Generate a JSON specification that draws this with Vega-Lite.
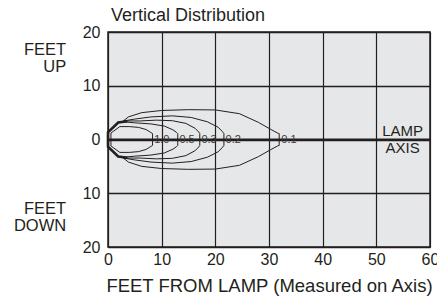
{
  "$schema": "https://vega.github.io/schema/vega-lite/v6.json",
  "autosize": "none",
  "width": 322,
  "height": 215,
  "padding": {"left": 108, "top": 32, "right": 7, "bottom": 54},
  "background": "white",
  "title": {"text": "Vertical Distribution", "anchor": "start", "frame": "group", "fontSize": 18, "fontWeight": "normal", "font": "Liberation Sans", "color": "#231f20", "baseline": "alphabetic", "offset": -14.5, "dx": 3},
  "config": {
    "view": {"fill": "#e6e7e8", "stroke": "#231f20", "strokeWidth": 1.5},
    "axis": {"labelFont": "Liberation Sans", "titleFont": "Liberation Sans", "labelColor": "#231f20", "titleColor": "#231f20", "gridColor": "#231f20", "gridOpacity": 1, "gridWidth": 1.2, "domain": false, "ticks": false},
    "text": {"font": "Liberation Sans", "color": "#231f20"}
  },
  "datasets": {
    "contours": [
      {"level": "0.1", "order": 1, "x": 2.85, "y": 3.45},
      {"level": "0.1", "order": 2, "x": 3.8, "y": 4.2},
      {"level": "0.1", "order": 3, "x": 6.3, "y": 5.0},
      {"level": "0.1", "order": 4, "x": 10, "y": 5.4},
      {"level": "0.1", "order": 5, "x": 15, "y": 5.55},
      {"level": "0.1", "order": 6, "x": 20, "y": 5.5},
      {"level": "0.1", "order": 7, "x": 24.5, "y": 4.8},
      {"level": "0.1", "order": 8, "x": 28, "y": 3.2},
      {"level": "0.1", "order": 9, "x": 30.3, "y": 1.9},
      {"level": "0.1", "order": 10, "x": 31.6, "y": 1.2},
      {"level": "0.1", "order": 11, "x": 31.9, "y": 1.1},
      {"level": "0.1", "order": 12, "x": 31.9, "y": -1.1},
      {"level": "0.1", "order": 13, "x": 31.6, "y": -1.2},
      {"level": "0.1", "order": 14, "x": 30.3, "y": -1.9},
      {"level": "0.1", "order": 15, "x": 28, "y": -3.2},
      {"level": "0.1", "order": 16, "x": 24.5, "y": -4.8},
      {"level": "0.1", "order": 17, "x": 20, "y": -5.5},
      {"level": "0.1", "order": 18, "x": 15, "y": -5.55},
      {"level": "0.1", "order": 19, "x": 10, "y": -5.4},
      {"level": "0.1", "order": 20, "x": 6.3, "y": -5.0},
      {"level": "0.1", "order": 21, "x": 3.8, "y": -4.2},
      {"level": "0.1", "order": 22, "x": 2.85, "y": -3.45},
      {"level": "0.2", "order": 1, "x": 2.85, "y": 3.45},
      {"level": "0.2", "order": 2, "x": 5, "y": 3.8},
      {"level": "0.2", "order": 3, "x": 8, "y": 4.2},
      {"level": "0.2", "order": 4, "x": 12, "y": 4.4},
      {"level": "0.2", "order": 5, "x": 15.5, "y": 4.1},
      {"level": "0.2", "order": 6, "x": 18.5, "y": 3.3},
      {"level": "0.2", "order": 7, "x": 20.5, "y": 2.3},
      {"level": "0.2", "order": 8, "x": 21.3, "y": 1.5},
      {"level": "0.2", "order": 9, "x": 21.6, "y": 1.1},
      {"level": "0.2", "order": 10, "x": 21.6, "y": -1.1},
      {"level": "0.2", "order": 11, "x": 21.3, "y": -1.5},
      {"level": "0.2", "order": 12, "x": 20.5, "y": -2.3},
      {"level": "0.2", "order": 13, "x": 18.5, "y": -3.3},
      {"level": "0.2", "order": 14, "x": 15.5, "y": -4.1},
      {"level": "0.2", "order": 15, "x": 12, "y": -4.4},
      {"level": "0.2", "order": 16, "x": 8, "y": -4.2},
      {"level": "0.2", "order": 17, "x": 5, "y": -3.8},
      {"level": "0.2", "order": 18, "x": 2.85, "y": -3.45},
      {"level": "0.3", "order": 1, "x": 2.85, "y": 3.45},
      {"level": "0.3", "order": 2, "x": 6, "y": 3.45},
      {"level": "0.3", "order": 3, "x": 9, "y": 3.6},
      {"level": "0.3", "order": 4, "x": 12, "y": 3.5},
      {"level": "0.3", "order": 5, "x": 14.5, "y": 3.0},
      {"level": "0.3", "order": 6, "x": 16.2, "y": 2.1},
      {"level": "0.3", "order": 7, "x": 16.9, "y": 1.4},
      {"level": "0.3", "order": 8, "x": 17.1, "y": 1.1},
      {"level": "0.3", "order": 9, "x": 17.1, "y": -1.1},
      {"level": "0.3", "order": 10, "x": 16.9, "y": -1.4},
      {"level": "0.3", "order": 11, "x": 16.2, "y": -2.1},
      {"level": "0.3", "order": 12, "x": 14.5, "y": -3.0},
      {"level": "0.3", "order": 13, "x": 12, "y": -3.5},
      {"level": "0.3", "order": 14, "x": 9, "y": -3.6},
      {"level": "0.3", "order": 15, "x": 6, "y": -3.45},
      {"level": "0.3", "order": 16, "x": 2.85, "y": -3.45},
      {"level": "0.5", "order": 1, "x": 2.85, "y": 3.3},
      {"level": "0.5", "order": 2, "x": 5, "y": 3.1},
      {"level": "0.5", "order": 3, "x": 8, "y": 2.9},
      {"level": "0.5", "order": 4, "x": 10.5, "y": 2.5},
      {"level": "0.5", "order": 5, "x": 12.1, "y": 1.8},
      {"level": "0.5", "order": 6, "x": 12.8, "y": 1.3},
      {"level": "0.5", "order": 7, "x": 13.0, "y": 1.1},
      {"level": "0.5", "order": 8, "x": 13.0, "y": -1.1},
      {"level": "0.5", "order": 9, "x": 12.8, "y": -1.3},
      {"level": "0.5", "order": 10, "x": 12.1, "y": -1.8},
      {"level": "0.5", "order": 11, "x": 10.5, "y": -2.5},
      {"level": "0.5", "order": 12, "x": 8, "y": -2.9},
      {"level": "0.5", "order": 13, "x": 5, "y": -3.1},
      {"level": "0.5", "order": 14, "x": 2.85, "y": -3.3},
      {"level": "1.0", "order": 1, "x": 0.55, "y": 1.2},
      {"level": "1.0", "order": 2, "x": 2.2, "y": 2.4},
      {"level": "1.0", "order": 3, "x": 4, "y": 2.4},
      {"level": "1.0", "order": 4, "x": 5.7, "y": 2.25},
      {"level": "1.0", "order": 5, "x": 7.1, "y": 1.85},
      {"level": "1.0", "order": 6, "x": 7.9, "y": 1.35},
      {"level": "1.0", "order": 7, "x": 8.3, "y": 1.1},
      {"level": "1.0", "order": 8, "x": 8.3, "y": -1.1},
      {"level": "1.0", "order": 9, "x": 7.9, "y": -1.35},
      {"level": "1.0", "order": 10, "x": 7.1, "y": -1.85},
      {"level": "1.0", "order": 11, "x": 5.7, "y": -2.25},
      {"level": "1.0", "order": 12, "x": 4, "y": -2.4},
      {"level": "1.0", "order": 13, "x": 2.2, "y": -2.4},
      {"level": "1.0", "order": 14, "x": 0.55, "y": -1.2},
      {"level": "1.0", "order": 15, "x": 0.55, "y": 1.2}
    ],
    "lamp": [
      {"order": 1, "x": 3.6, "y": 3.4},
      {"order": 2, "x": 1.9, "y": 3.15},
      {"order": 3, "x": 0, "y": 1.35},
      {"order": 4, "x": 0, "y": -1.35},
      {"order": 5, "x": 1.9, "y": -3.15},
      {"order": 6, "x": 3.6, "y": -3.4}
    ],
    "levels": [
      {"label": "1.0", "x": 8.6, "y": 0},
      {"label": "0.5", "x": 13.3, "y": 0},
      {"label": "0.3", "x": 17.4, "y": 0},
      {"label": "0.2", "x": 21.9, "y": 0},
      {"label": "0.1", "x": 32.3, "y": 0}
    ],
    "notes": [
      {"label": "FEET\nUP", "x": -7.8, "y": 15.0},
      {"label": "FEET\nDOWN", "x": -7.8, "y": -14.5}
    ],
    "axisnote": [
      {"label": "LAMP\nAXIS", "x": 54.9, "y": 0}
    ],
    "axisline": [{"y": 0}]
  },
  "encoding": {
    "x": {"type": "quantitative"},
    "y": {"type": "quantitative"}
  },
  "layer": [
    {
      "data": {"name": "axisline"},
      "mark": {"type": "rule", "stroke": "#231f20", "strokeWidth": 2},
      "encoding": {
        "y": {"field": "y", "type": "quantitative", "scale": {"domain": [-20, 20]},
          "axis": {"values": [-20, -10, 0, 10, 20], "labelExpr": "abs(datum.value)", "labelFontSize": 16, "labelPadding": 8, "title": null, "gridWidth": 1.4}}
      }
    },
    {
      "data": {"name": "contours"},
      "mark": {"type": "line", "stroke": "#231f20", "strokeWidth": 1, "interpolate": "linear"},
      "encoding": {
        "x": {"field": "x", "type": "quantitative", "scale": {"domain": [0, 60]},
          "axis": {"values": [0, 10, 20, 30, 40, 50, 60], "labelFontSize": 16, "labelPadding": 4, "labelFlush": false, "title": "FEET FROM LAMP (Measured on Axis)", "titleFontSize": 18.5, "titleFontWeight": "normal", "titlePadding": 9}},
        "y": {"field": "y", "type": "quantitative"},
        "detail": {"field": "level"},
        "order": {"field": "order", "type": "quantitative"}
      }
    },
    {
      "data": {"name": "lamp"},
      "mark": {"type": "line", "stroke": "#231f20", "strokeWidth": 2.6, "strokeJoin": "miter"},
      "encoding": {
        "x": {"field": "x", "type": "quantitative"},
        "y": {"field": "y", "type": "quantitative"},
        "order": {"field": "order", "type": "quantitative"}
      }
    },
    {
      "data": {"name": "levels"},
      "mark": {"type": "text", "align": "left", "baseline": "middle", "fontSize": 11, "color": "#3a3a3a"},
      "encoding": {
        "x": {"field": "x", "type": "quantitative"},
        "y": {"field": "y", "type": "quantitative"},
        "text": {"field": "label"}
      }
    },
    {
      "data": {"name": "axisnote"},
      "mark": {"type": "text", "align": "center", "baseline": "middle", "fontSize": 15, "lineBreak": "\n", "lineHeight": 17, "dy": -8.5},
      "encoding": {
        "x": {"field": "x", "type": "quantitative"},
        "y": {"field": "y", "type": "quantitative"},
        "text": {"field": "label"}
      }
    },
    {
      "data": {"name": "notes"},
      "mark": {"type": "text", "align": "right", "baseline": "middle", "fontSize": 16.5, "lineBreak": "\n", "lineHeight": 17, "dy": -8.5},
      "encoding": {
        "x": {"field": "x", "type": "quantitative"},
        "y": {"field": "y", "type": "quantitative"},
        "text": {"field": "label"}
      }
    }
  ]
}
